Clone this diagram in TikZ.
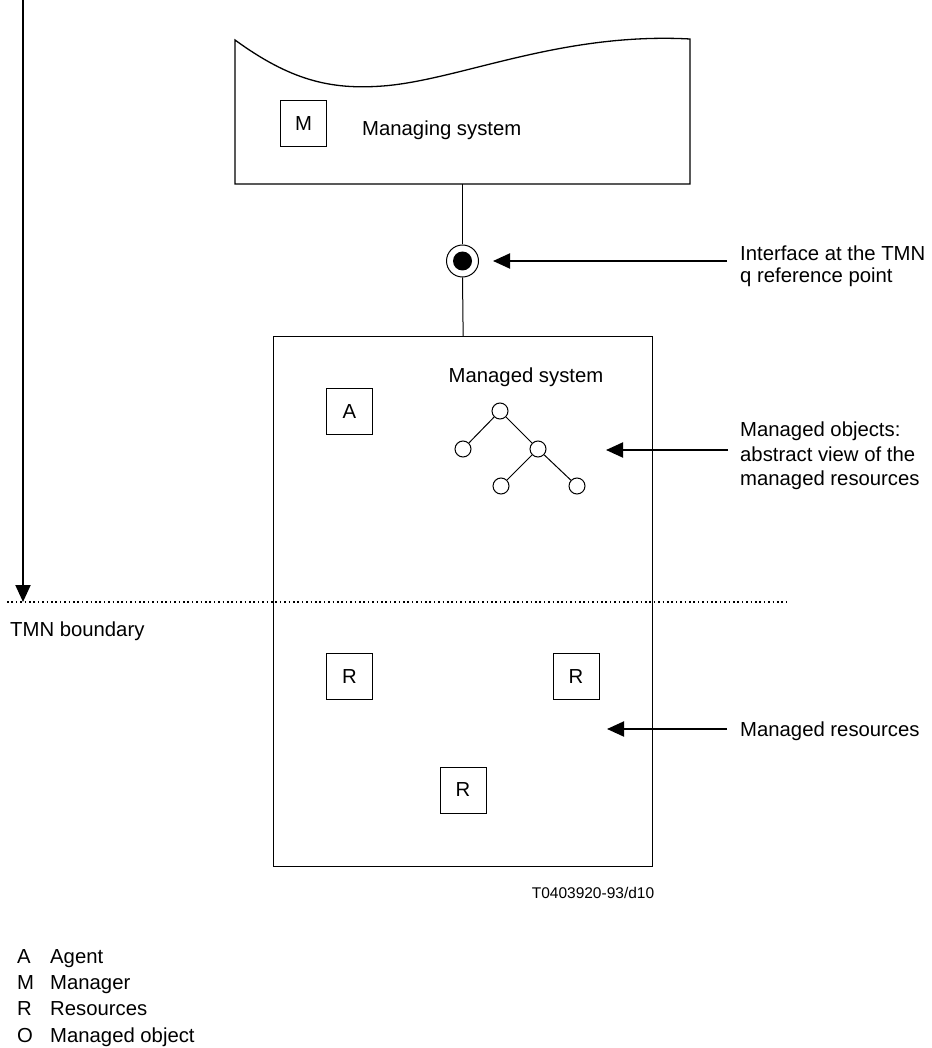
\documentclass[tikz,border=0pt]{standalone}
\usepackage{fontspec}
\setmainfont{Liberation Sans}
\usetikzlibrary{arrows.meta}
\begin{document}
\begin{tikzpicture}[x=1pt,y=-1pt,
  txt/.style={font=\fontsize{20.3}{24}\selectfont, inner sep=0pt},
  sbox/.style={draw, line width=1pt, minimum size=46pt, inner sep=0pt, font=\fontsize{20.3}{24}\selectfont},
  obj/.style={draw, circle, line width=1pt, minimum size=16pt, inner sep=0pt},
  arr/.style={line width=2pt, -{Triangle[length=17pt,width=15pt]}},
  thinline/.style={line width=1pt},
  frame/.style={line width=1.3pt}]
\useasboundingbox (0,0) rectangle (931,1048);

% Managing system
\draw[frame] (235,40) .. controls (290,80) and (330,90) .. (383,86)
  .. controls (460,80) and (560,32) .. (690,39) -- (690,184) -- (235,184) -- cycle;
\coordinate (msbot) at (462.5,184);
\node[sbox] (m) at (303.5,123.5) {M};
\node[txt, anchor=base west] (mslabel) at (362,136) {Managing system};

% Interface
\node[circle, draw, thinline, minimum size=32pt, inner sep=0pt] (ifc) at (462.5,261) {};
\node[circle, fill=black, minimum size=19pt, inner sep=0pt] (ifd) at (462.5,261) {};

% Managed system
\node[draw, frame, minimum width=379pt, minimum height=530pt, inner sep=0pt, anchor=north west] (mgd) at (273,336) {};
\draw[thinline] (msbot) -- (ifc.north);
\draw[thinline] (ifc.south) -- (mgd.north);
\node[txt, anchor=base] (mgdlabel) at (526,382) {Managed system};
\node[sbox] (a) at (349.5,411.5) {A};

% Tree of managed objects
\node[obj] (t1) at (500,411) {};
\node[obj] (t2) at (463,449) {};
\node[obj] (t3) at (538,449) {};
\node[obj] (t4) at (501,486) {};
\node[obj] (t5) at (577,486) {};
\draw[thinline] (t1) -- (t2);
\draw[thinline] (t1) -- (t3);
\draw[thinline] (t3) -- (t4);
\draw[thinline] (t3) -- (t5);

% Resources
\node[sbox] (r1) at (349.5,676.5) {R};
\node[sbox] (r2) at (576,676.5) {R};
\node[sbox] (r3) at (463,790) {R};

% TMN boundary
\coordinate (tmntop) at (23,0);
\coordinate (tmntip) at (23,602);
\draw[arr] (tmntop) -- (tmntip);
\coordinate (bl) at (7,602);
\coordinate (br) at (790,602);
\draw[line width=1.6pt, dash pattern=on 1.6pt off 2.8pt] (bl) -- (br);
\node[txt, anchor=base west] (tmnlabel) at (10,636) {TMN boundary};

% Right-hand labels and arrows
\node[txt, anchor=north west, align=left, font=\fontsize{20.3}{22}\selectfont] (iflabel) at (740,246) {Interface at the TMN\\q reference point};
\coordinate (ifa) at (727,261);
\coordinate (ifb) at (493,261);
\draw[arr] (ifa) -- (ifb);

\node[txt, anchor=north west, align=left, font=\fontsize{20.3}{24.5}\selectfont] (molabel) at (740,422) {Managed objects:\\abstract view of the\\managed resources};
\coordinate (moa) at (728,450);
\coordinate (mob) at (606,450);
\draw[arr] (moa) -- (mob);

\node[txt, anchor=base west] (mrlabel) at (740,736) {Managed resources};
\coordinate (mra) at (727,729);
\coordinate (mrb) at (607,729);
\draw[arr] (mra) -- (mrb);

% Caption
\node[txt, anchor=base, font=\fontsize{15.5}{18}\selectfont] (cap) at (593,898) {T0403920-93/d10};

% Legend
\node[txt, anchor=base west] (la) at (17,963) {A};
\node[txt, anchor=base west] (lat) at (50,963) {Agent};
\node[txt, anchor=base west] (lm) at (17,989) {M};
\node[txt, anchor=base west] (lmt) at (50,989) {Manager};
\node[txt, anchor=base west] (lr) at (17,1015) {R};
\node[txt, anchor=base west] (lrt) at (50,1015) {Resources};
\node[txt, anchor=base west] (lo) at (17,1042) {O};
\node[txt, anchor=base west] (lot) at (50,1042) {Managed object};
\end{tikzpicture}
\end{document}
